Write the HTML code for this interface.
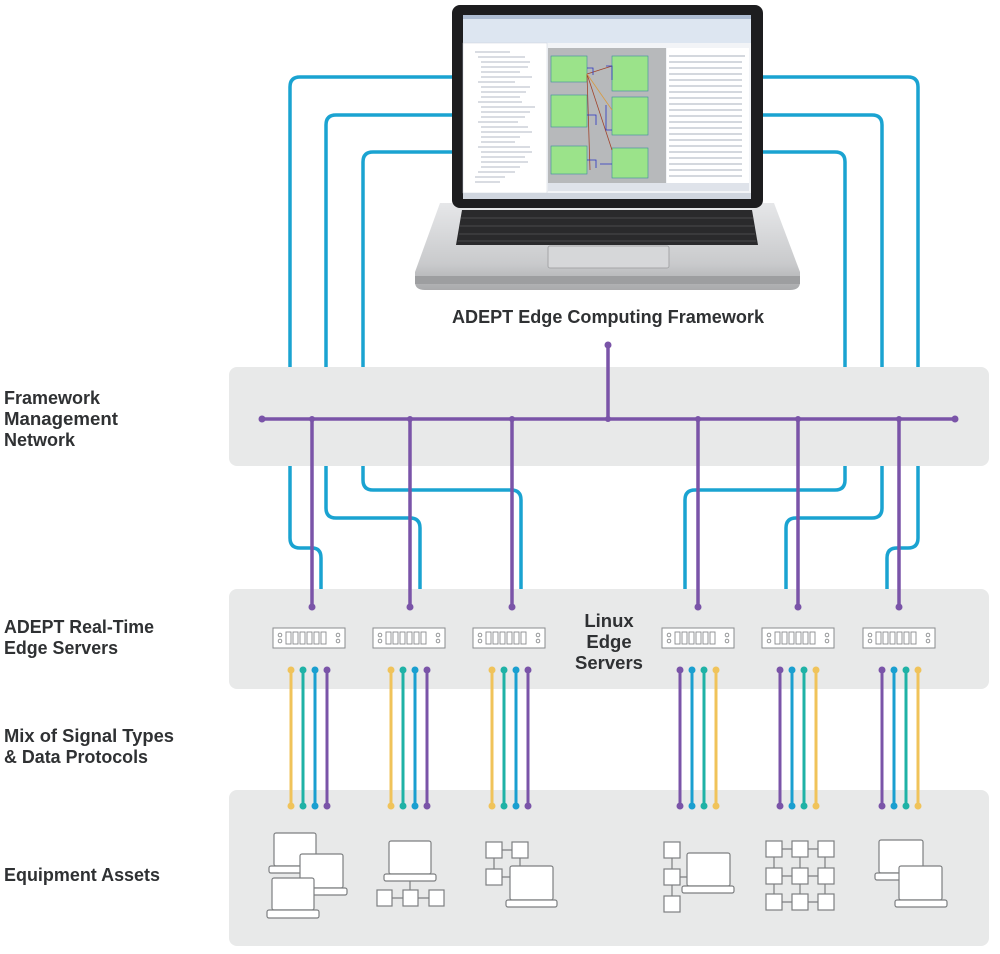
<!DOCTYPE html>
<html><head><meta charset="utf-8"><style>
html,body{margin:0;padding:0;background:#fff;}
svg{display:block;}
text{font-family:"Liberation Sans",sans-serif;font-weight:bold;fill:#2f3133;}
</style></head><body>
<svg width="1000" height="954" viewBox="0 0 1000 954" xmlns="http://www.w3.org/2000/svg">
<defs>
<linearGradient id="base" x1="0" y1="0" x2="0" y2="1">
<stop offset="0" stop-color="#e6e7e9"/><stop offset="0.7" stop-color="#c9cacc"/><stop offset="1" stop-color="#a9aaac"/>
</linearGradient>
</defs>
<!-- cyan lines (behind bands) -->
<g fill="none" stroke="#1aa3d1" stroke-width="3.5" stroke-linecap="round" stroke-linejoin="round">
<path d="M455 77 H300 Q290 77 290 87 V538 Q290 548 300 548 H312 Q321 548 321 558 V607"/>
<path d="M455 115 H336 Q326 115 326 125 V508 Q326 518 336 518 H410 Q420 518 420 528 V607"/>
<path d="M455 152 H373 Q363 152 363 162 V480 Q363 490 373 490 H511 Q521 490 521 500 V607"/>
<path d="M760 77 H908 Q918 77 918 87 V538 Q918 548 908 548 H897 Q887 548 887 558 V607"/>
<path d="M760 115 H872 Q882 115 882 125 V508 Q882 518 872 518 H796 Q786 518 786 528 V607"/>
<path d="M760 152 H835 Q845 152 845 162 V480 Q845 490 835 490 H695 Q685 490 685 500 V607"/>
</g>
<g fill="#1aa3d1">
<circle cx="321" cy="607" r="3.5"/><circle cx="420" cy="607" r="3.5"/><circle cx="521" cy="607" r="3.5"/>
<circle cx="685" cy="607" r="3.5"/><circle cx="786" cy="607" r="3.5"/><circle cx="887" cy="607" r="3.5"/>
</g>
<!-- bands -->
<rect x="229" y="367" width="760" height="99" rx="8" fill="#e8e9e9"/>
<rect x="229" y="589" width="760" height="100" rx="8" fill="#e8e9e9"/>
<rect x="229" y="790" width="760" height="156" rx="8" fill="#e8e9e9"/>
<!-- purple network -->
<g stroke="#7a54a8" stroke-width="3.5" fill="none">
<path d="M262 419 H955"/><path d="M608 345 V419"/>
<path d="M312 419 V607 M410 419 V607 M512 419 V607 M698 419 V607 M798 419 V607 M899 419 V607"/>
</g>
<g fill="#7a54a8">
<circle cx="262" cy="419" r="3.5"/><circle cx="955" cy="419" r="3.5"/><circle cx="608" cy="345" r="3.5"/><circle cx="608" cy="419" r="3"/>
<circle cx="312" cy="419" r="3"/><circle cx="410" cy="419" r="3"/><circle cx="512" cy="419" r="3"/><circle cx="698" cy="419" r="3"/><circle cx="798" cy="419" r="3"/><circle cx="899" cy="419" r="3"/>
<circle cx="312" cy="607" r="3.5"/><circle cx="410" cy="607" r="3.5"/><circle cx="512" cy="607" r="3.5"/><circle cx="698" cy="607" r="3.5"/><circle cx="798" cy="607" r="3.5"/><circle cx="899" cy="607" r="3.5"/>
</g>
<!-- laptop -->
<path d="M440 203 H774 L800 272 V282 Q800 290 790 290 H425 Q415 290 415 282 V272 Z" fill="url(#base)"/>
<rect x="415" y="276" width="385" height="8" fill="#9d9ea0"/>
<path d="M462 210 H752 L758 245 H456 Z" fill="#2a2a2c"/>
<g stroke="#555" stroke-width="0.8">
<path d="M461 218 H753 M460 226 H754 M459 234 H755 M458 241 H756"/>
</g>
<rect x="548" y="246" width="121" height="22" rx="2" fill="#d6d7d9" stroke="#a5a6a8"/>
<rect x="452" y="5" width="311" height="203" rx="8" fill="#1d1d1f"/>
<rect x="463" y="15" width="288" height="184" fill="#f2f4f7"/>
<rect x="463" y="15" width="288" height="4" fill="#aebdd3"/>
<rect x="463" y="19" width="288" height="24" fill="#dde6f1"/>
<rect x="463" y="43" width="84" height="150" fill="#fff" stroke="#c9d0da" stroke-width="0.5"/>
<g stroke="#9aa4b3" stroke-width="0.8">
<path d="M475 52 H510 M478 57 H525 M481 62 H530 M481 67 H528 M481 72 H520 M481 77 H532 M478 82 H515 M481 87 H530 M481 92 H526 M481 97 H520 M478 102 H522 M481 107 H535 M481 112 H530 M481 117 H525 M478 122 H518 M481 127 H528 M481 132 H532 M481 137 H520 M481 142 H515 M478 147 H530 M481 152 H532 M481 157 H525 M481 162 H528 M481 167 H520 M478 172 H515 M475 177 H505 M475 182 H500"/>
</g>
<rect x="548" y="48" width="118" height="135" fill="#b7b9bb"/>
<g fill="#9be38a" stroke="#3b8c9e" stroke-width="0.6">
<rect x="551" y="56" width="36" height="26"/><rect x="612" y="56" width="36" height="35"/>
<rect x="551" y="95" width="36" height="32"/><rect x="612" y="97" width="36" height="38"/>
<rect x="551" y="146" width="36" height="28"/><rect x="612" y="148" width="36" height="30"/>
</g>
<g fill="none" stroke-width="0.8">
<path d="M587 74 L612 66 M587 74 L612 150 M587 74 L590 170" stroke="#a0442c"/>
<path d="M587 74 L612 110" stroke="#d89a40"/>
<path d="M587 68 H593 V75 M606 66 H612 V80 M606 105 V130 H612 M587 115 H596 V125 M587 160 H596 V168 M600 164 H612" stroke="#2a35c4"/>
</g>
<rect x="667" y="48" width="82" height="135" fill="#fff"/>
<g stroke="#8e98a8" stroke-width="0.8">
<path d="M669 56 H745 M669 62 H742 M669 68 H742 M669 74 H742 M669 80 H742 M669 86 H742 M669 92 H742 M669 98 H742 M669 104 H742 M669 110 H742 M669 116 H742 M669 122 H742 M669 128 H742 M669 134 H742 M669 140 H742 M669 146 H742 M669 152 H742 M669 158 H742 M669 164 H742 M669 170 H742 M669 176 H742"/>
</g>
<rect x="548" y="183" width="201" height="8" fill="#dfe3ea"/>
<rect x="463" y="193" width="288" height="6" fill="#d0d6df"/>
<!-- title -->
<text x="608" y="323" font-size="18.5" text-anchor="middle" textLength="312" lengthAdjust="spacingAndGlyphs">ADEPT Edge Computing Framework</text>
<!-- left labels -->
<g font-size="18">
<text x="4" y="404">Framework</text>
<text x="4" y="425" textLength="114" lengthAdjust="spacingAndGlyphs">Management</text>
<text x="4" y="446">Network</text>
<text x="4" y="633" textLength="150" lengthAdjust="spacingAndGlyphs">ADEPT Real-Time</text>
<text x="4" y="654" textLength="114" lengthAdjust="spacingAndGlyphs">Edge Servers</text>
<text x="4" y="742" textLength="170" lengthAdjust="spacingAndGlyphs">Mix of Signal Types</text>
<text x="4" y="763" textLength="144" lengthAdjust="spacingAndGlyphs">&amp; Data Protocols</text>
<text x="4" y="881" textLength="156" lengthAdjust="spacingAndGlyphs">Equipment Assets</text>
</g>
<g font-size="18.5" text-anchor="middle">
<text x="609" y="627">Linux</text><text x="609" y="648">Edge</text><text x="609" y="669">Servers</text>
</g>
<!-- servers -->
<g id="srv">
<rect x="273" y="628" width="72" height="20" fill="#fff" stroke="#8a8c8e" stroke-width="1"/>
<g fill="none" stroke="#8a8c8e" stroke-width="0.9">
<circle cx="280" cy="635" r="1.8"/><circle cx="280" cy="641" r="1.8"/>
<circle cx="338" cy="635" r="1.8"/><circle cx="338" cy="641" r="1.8"/>
<rect x="286" y="632" width="5" height="12"/><rect x="293" y="632" width="5" height="12"/><rect x="300" y="632" width="5" height="12"/>
<rect x="307" y="632" width="5" height="12"/><rect x="314" y="632" width="5" height="12"/><rect x="321" y="632" width="5" height="12"/>
</g>
</g>
<use href="#srv" x="100"/><use href="#srv" x="200"/><use href="#srv" x="389"/><use href="#srv" x="489"/><use href="#srv" x="590"/>
<!-- signal lines -->
<g id="sigL" stroke-width="3" stroke-linecap="round">
<path d="M291 670 V806" stroke="#f0c35a"/><path d="M303 670 V806" stroke="#1fb2a6"/>
<path d="M315 670 V806" stroke="#1a9fd0"/><path d="M327 670 V806" stroke="#7a54a8"/>
<circle cx="291" cy="670" r="3.5" fill="#f0c35a"/><circle cx="303" cy="670" r="3.5" fill="#1fb2a6"/><circle cx="315" cy="670" r="3.5" fill="#1a9fd0"/><circle cx="327" cy="670" r="3.5" fill="#7a54a8"/>
<circle cx="291" cy="806" r="3.5" fill="#f0c35a"/><circle cx="303" cy="806" r="3.5" fill="#1fb2a6"/><circle cx="315" cy="806" r="3.5" fill="#1a9fd0"/><circle cx="327" cy="806" r="3.5" fill="#7a54a8"/>
</g>
<use href="#sigL" x="100"/><use href="#sigL" x="201"/>
<g id="sigR" stroke-width="3" stroke-linecap="round">
<path d="M680 670 V806" stroke="#7a54a8"/><path d="M692 670 V806" stroke="#1a9fd0"/>
<path d="M704 670 V806" stroke="#1fb2a6"/><path d="M716 670 V806" stroke="#f0c35a"/>
<circle cx="680" cy="670" r="3.5" fill="#7a54a8"/><circle cx="692" cy="670" r="3.5" fill="#1a9fd0"/><circle cx="704" cy="670" r="3.5" fill="#1fb2a6"/><circle cx="716" cy="670" r="3.5" fill="#f0c35a"/>
<circle cx="680" cy="806" r="3.5" fill="#7a54a8"/><circle cx="692" cy="806" r="3.5" fill="#1a9fd0"/><circle cx="704" cy="806" r="3.5" fill="#1fb2a6"/><circle cx="716" cy="806" r="3.5" fill="#f0c35a"/>
</g>
<use href="#sigR" x="100"/><use href="#sigR" x="202"/>
<!-- equipment icons -->
<g fill="#fff" stroke="#7d7f81" stroke-width="1.2">
<rect x="274" y="833" width="42" height="33" rx="2"/><rect x="269" y="866" width="52" height="7" rx="2"/>
<rect x="300" y="854" width="43" height="34" rx="2"/><rect x="298" y="888" width="49" height="7" rx="2"/>
<rect x="272" y="878" width="42" height="32" rx="2"/><rect x="267" y="910" width="52" height="8" rx="2"/>

<path d="M410 881 V890 M392 898 H429" fill="none"/>
<rect x="389" y="841" width="42" height="33" rx="2"/><rect x="384" y="874" width="52" height="7" rx="2"/>
<rect x="377" y="890" width="15" height="16"/><rect x="403" y="890" width="15" height="16"/><rect x="429" y="890" width="15" height="16"/>

<path d="M502 850 H512 M494 858 V869 M520 858 V866 M502 877 H510" fill="none"/>
<rect x="486" y="842" width="16" height="16"/><rect x="512" y="842" width="16" height="16"/><rect x="486" y="869" width="16" height="16"/>
<rect x="510" y="866" width="43" height="34" rx="2"/><rect x="506" y="900" width="51" height="7" rx="2"/>

<path d="M672 858 V896 M680 877 H687" fill="none"/>
<rect x="664" y="842" width="16" height="16"/><rect x="664" y="869" width="16" height="16"/><rect x="664" y="896" width="16" height="16"/>
<rect x="687" y="853" width="43" height="33" rx="2"/><rect x="682" y="886" width="52" height="7" rx="2"/>

<path d="M782 849 H792 M808 849 H818 M782 876 H792 M808 876 H818 M782 902 H792 M808 902 H818 M774 857 V894 M800 857 V894 M825 857 V894" fill="none"/>
<rect x="766" y="841" width="16" height="16"/><rect x="792" y="841" width="16" height="16"/><rect x="818" y="841" width="16" height="16"/>
<rect x="766" y="868" width="16" height="16"/><rect x="792" y="868" width="16" height="16"/><rect x="818" y="868" width="16" height="16"/>
<rect x="766" y="894" width="16" height="16"/><rect x="792" y="894" width="16" height="16"/><rect x="818" y="894" width="16" height="16"/>

<rect x="879" y="840" width="44" height="33" rx="2"/><rect x="875" y="873" width="52" height="7" rx="2"/>
<rect x="899" y="866" width="43" height="34" rx="2"/><rect x="895" y="900" width="52" height="7" rx="2"/>
</g>
</svg>
</body></html>
